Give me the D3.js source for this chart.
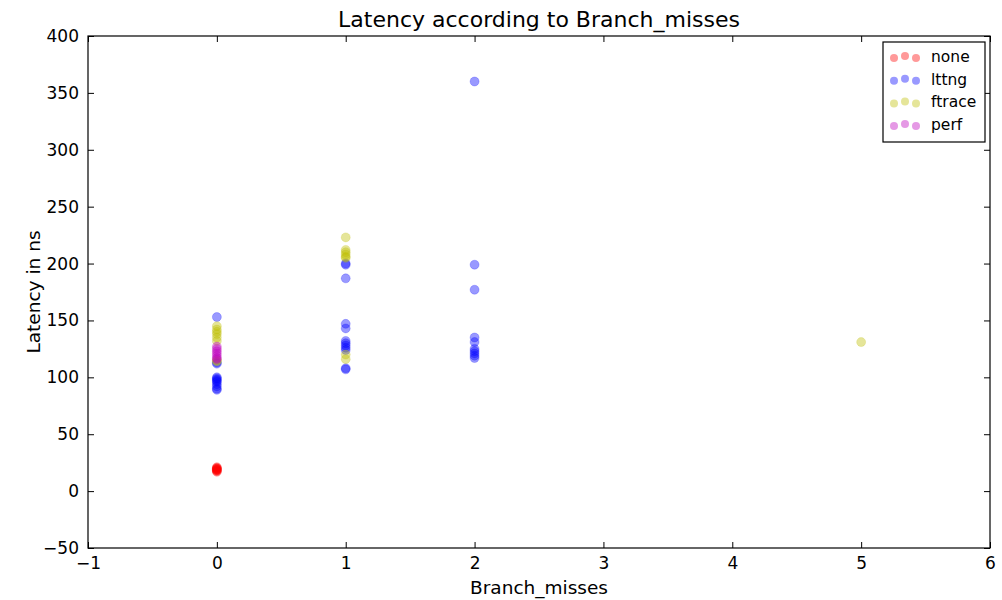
<!DOCTYPE html>
<html>
<head>
<meta charset="utf-8">
<script src="https://cdn.jsdelivr.net/npm/d3@7"></script>
<style>
body { margin: 0; background: #fff; }
text { font-family: "DejaVu Sans", sans-serif; }
</style>
</head>
<body>
<div id="chart"></div>
<script>
// data: [branch_misses, latency]
const noneData = [[0,17],[0,18],[0,19],[0,20],[0,21],[0,18],[0,20],[0,19]];
const lttngData = [
  [0,153],[0,113],[0,112],[0,100],[0,98],[0,96],[0,94],[0,92],[0,90],[0,89],[0,97],[0,99],
  [1,200],[1,199],[1,187],[1,147],[1,143],[1,132],[1,130],[1,128],[1,126],[1,124],[1,108],[1,107],
  [2,360],[2,199],[2,177],[2,135],[2,131],[2,125],[2,123],[2,121],[2,119],[2,117]
];
const ftraceData = [
  [0,145],[0,142],[0,140],[0,138],[0,135],[0,132],[0,115],[0,114],
  [1,223],[1,212],[1,210],[1,208],[1,206],[1,205],[1,120],[1,116],
  [5,131]
];
const perfData = [[0,127],[0,125],[0,123],[0,121],[0,119],[0,117],[0,116]];

const seriesNames = ["none", "lttng", "ftrace", "perf"];
const seriesColors = ["#ff0000", "#0000ff", "#bfbf00", "#bf00bf"];
const seriesData = [noneData, lttngData, ftraceData, perfData];

const xTicks = [-1, 0, 1, 2, 3, 4, 5, 6];
const yTicks = [-50, 0, 50, 100, 150, 200, 250, 300, 350, 400];

var margin = {top: 36, right: 12, bottom: 52, left: 88},
    width = 1002 - margin.left - margin.right,
    height = 600 - margin.top - margin.bottom;

var svg = d3.select("#chart")
    .append("svg")
    .attr("width", 1002)
    .attr("height", 600);

var g = svg.append("g")
    .attr("transform", "translate(" + margin.left + "," + margin.top + ")");

const x = d3.scaleLinear().domain([-1, 6]).range([0, width]);
const y = d3.scaleLinear().domain([-50, 400]).range([height, 0]);

// points
seriesData.forEach(function(data, i){
    g.selectAll(".pt" + i)
        .data(data)
        .enter().append("circle")
        .attr("class", "pt" + i)
        .attr("cx", d => x(d[0]))
        .attr("cy", d => y(d[1]))
        .attr("r", 4.5)
        .style("fill", seriesColors[i])
        .style("fill-opacity", 0.4)
        .style("stroke", seriesColors[i])
        .style("stroke-opacity", 0.4)
        .style("stroke-width", 0.5);
});

// axes, ticks pointing inward
const tickLen = 6;
const fmt = d3.format("d");
g.append("g")
    .attr("transform", "translate(0," + height + ")")
    .call(d3.axisBottom(x).tickValues(xTicks).tickFormat(fmt).tickSizeInner(-tickLen).tickSizeOuter(0).tickPadding(9))
    .call(a => a.select(".domain").remove());
g.append("g")
    .call(d3.axisTop(x).tickValues(xTicks).tickSizeInner(-tickLen).tickSizeOuter(0).tickFormat(""))
    .call(a => a.select(".domain").remove());
g.append("g")
    .call(d3.axisLeft(y).tickValues(yTicks).tickFormat(fmt).tickSizeInner(-tickLen).tickSizeOuter(0).tickPadding(9))
    .call(a => a.select(".domain").remove());
g.append("g")
    .attr("transform", "translate(" + width + ",0)")
    .call(d3.axisRight(y).tickValues(yTicks).tickSizeInner(-tickLen).tickSizeOuter(0).tickFormat(""))
    .call(a => a.select(".domain").remove());

g.selectAll(".tick text")
    .attr("font-family", "DejaVu Sans")
    .attr("font-size", "17px")
    .attr("fill", "#000");
g.selectAll(".tick line").attr("stroke", "#000");

g.append("rect")
    .attr("x", 0)
    .attr("y", 0)
    .attr("width", width)
    .attr("height", height)
    .style("fill", "none")
    .style("stroke", "#000")
    .style("stroke-width", 1.2);

// titles
svg.append("text")
    .attr("x", margin.left + width / 2)
    .attr("y", 27)
    .attr("text-anchor", "middle")
    .attr("font-size", "22px")
    .text("Latency according to Branch_misses");
svg.append("text")
    .attr("x", margin.left + width / 2)
    .attr("y", 594)
    .attr("text-anchor", "middle")
    .attr("font-size", "18.5px")
    .text("Branch_misses");
svg.append("text")
    .attr("transform", "translate(40," + (margin.top + height / 2) + ") rotate(-90)")
    .attr("text-anchor", "middle")
    .attr("font-size", "18.5px")
    .text("Latency in ns");

// legend
var leg = svg.append("g").attr("transform", "translate(883,42)");
leg.append("rect")
    .attr("width", 102)
    .attr("height", 100)
    .style("fill", "#fff")
    .style("stroke", "#000")
    .style("stroke-width", 1.2);
var item = leg.selectAll(".item")
    .data(seriesNames)
    .enter().append("g")
    .attr("class", "item")
    .attr("transform", (d, i) => "translate(0," + (15 + 22.7 * i) + ")");
[0, 1, 2].forEach(function(k){
    item.append("circle")
        .attr("cx", 11 + 11 * k)
        .attr("cy", k == 1 ? -1 : 1)
        .attr("r", 4)
        .style("fill", (d, i) => seriesColors[i])
        .style("fill-opacity", 0.4);
});
item.append("text")
    .attr("x", 48)
    .attr("y", 5)
    .attr("font-size", "15.5px")
    .text(d => d);
</script>
</body>
</html>
